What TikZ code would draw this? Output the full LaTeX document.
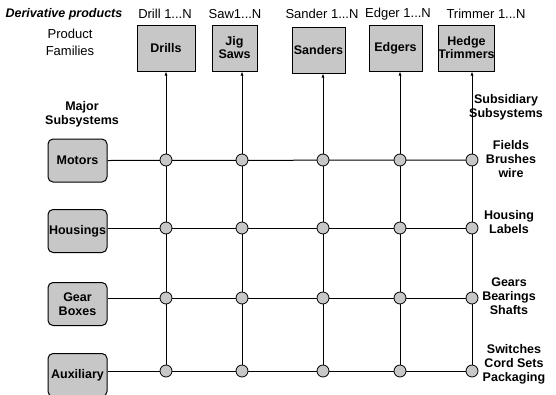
\documentclass[tikz,border=0pt]{standalone}
\usepackage{fontspec}
\setmainfont{Liberation Sans}
\usetikzlibrary{arrows.meta}
\begin{document}
\begin{tikzpicture}[x=1pt,y=-1pt,
  topbox/.style={draw, line width=1pt, fill=black!22, minimum width=#1, minimum height=46pt, inner sep=0pt, align=center, font=\fontsize{12.5}{13}\selectfont\bfseries},
  sidebox/.style={draw, line width=1pt, fill=black!22, rounded corners=5pt, minimum width=59pt, minimum height=43pt, inner sep=0pt, align=center, font=\fontsize{12.5}{14}\selectfont\bfseries},
  joint/.style={circle, draw, line width=0.8pt, fill=black!22, minimum size=12pt, inner sep=0pt},
  hdr/.style={font=\fontsize{13}{14}\selectfont, inner sep=0pt},
  lbl/.style={font=\fontsize{12.5}{14}\selectfont\bfseries, align=center, inner sep=0pt},
  wire/.style={line width=1pt},
  up/.style={wire, -{Latex[length=4pt,width=3pt]}}]
\useasboundingbox (0,0) rectangle (556,394);
% headers
\node[hdr, font=\fontsize{12.5}{14}\selectfont\itshape\bfseries] (dp) at (64,14) {Derivative products};
\node[hdr] (h1) at (165,14) {Drill 1...N};
\node[hdr] (h2) at (235,14) {Saw1...N};
\node[hdr] (h3) at (322,14) {Sander 1...N};
\node[hdr] (h4) at (398,14) {Edger 1...N};
\node[hdr] (h5) at (486,14) {Trimmer 1...N};
\node[hdr, align=center, font=\fontsize{13}{17}\selectfont] (pf) at (70,42) {Product\\Families};
\node[lbl] (ms) at (82,114) {Major\\Subsystems};
\node[lbl] (ss) at (506,107) {Subsidiary\\Subsystems};
% top boxes
\node[topbox=58pt] (drills) at (166,48) {Drills};
\node[topbox=45pt] (jig) at (234.5,48) {Jig\\Saws};
\node[topbox=53pt] (sanders) at (318.5,50) {Sanders};
\node[topbox=53pt] (edgers) at (395.5,48) {Edgers};
\node[topbox=49pt] (hedge) at (466.5,48) {Hedge\\Trimmers};
% side boxes
\node[sidebox] (motors) at (77.5,160.5) {Motors};
\node[sidebox] (housings) at (77.5,231) {Housings};
\node[sidebox] (gear) at (77.5,304) {Gear\\Boxes};
\node[sidebox] (aux) at (77.5,375) {Auxiliary};
% joints
\foreach \c/\x in {1/166,2/242,3/323,4/400,5/472}{
  \foreach \r/\y in {1/160,2/228,3/298,4/371}{
    \coordinate (p\r\c) at (\x,\y);
  }
}
% horizontal wires
\draw[wire] (motors.east) -- (p15);
\draw[wire] (housings.east |- p25) -- (p25);
\draw[wire] (gear.east |- p35) -- (p35);
\draw[wire] (aux.east |- p45) -- (p45);
% vertical wires with arrows
\draw[up] (p41) -- (p41 |- drills.south);
\draw[up] (p42) -- (p42 |- jig.south);
\draw[up] (p43) -- (p43 |- sanders.south);
\draw[up] (p44) -- (p44 |- edgers.south);
\draw[up] (p45) -- (p45 |- hedge.south);
\foreach \c in {1,...,5}{
  \foreach \r in {1,...,4}{
    \node[joint] (j\r\c) at (p\r\c) {};
  }
}
% right labels
\node[lbl] (r1) at (511,159) {Fields\\Brushes\\wire};
\node[lbl] (r2) at (509,222) {Housing\\Labels};
\node[lbl] (r3) at (509,296) {Gears\\Bearings\\Shafts};
\node[lbl] (r4) at (514,364) {Switches\\Cord Sets\\Packaging};
\end{tikzpicture}
\end{document}
